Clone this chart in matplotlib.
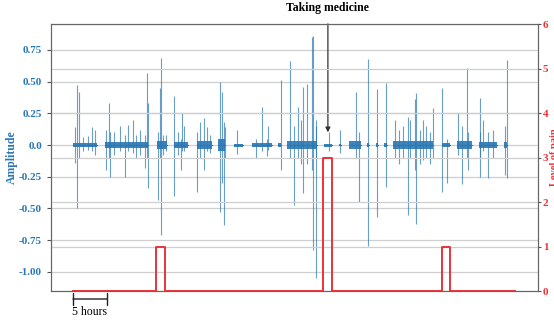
import matplotlib.pyplot as plt

# signal bursts: start/end (hours) and half-width of the dense noise band
seg_start = [0.0, 4.7, 12.4, 14.9, 18.2, 21.3, 23.7, 26.3, 30.1, 31.5, 36.9, 39.1,
             40.6, 43.2, 44.6, 45.8, 47.1, 54.3, 56.5, 59.7, 63.4]
seg_end = [3.5, 11.0, 13.8, 16.9, 20.4, 22.4, 25.0, 29.3, 30.6, 35.9, 38.1, 39.4,
           42.4, 43.6, 44.9, 46.2, 52.9, 55.4, 58.7, 62.4, 63.8]
seg_band = [0.018, 0.025, 0.03, 0.025, 0.03, 0.05, 0.012, 0.018, 0.018, 0.035, 0.012, 0.006,
            0.03, 0.018, 0.018, 0.018, 0.035, 0.018, 0.03, 0.025, 0.025]

# individual spikes: time (hours), peak and trough amplitude
spike_t = [0.29, 0.54, 0.84, 1.5, 2.2, 2.75, 3.24,
           4.8, 5.3, 5.44, 6.0, 6.9, 7.65, 8.1, 8.8, 9.3, 9.85, 10.6, 10.9, 11.07,
           12.55, 12.8, 12.94, 13.3, 13.7,
           14.9, 15.4, 15.9, 16.0, 16.3,
           18.3, 18.7, 19.2, 19.7, 20.1,
           21.6, 21.9, 22.2, 22.35,
           24.1, 26.9, 27.8, 28.5, 28.7, 30.6,
           31.9, 32.5, 33.1, 33.5, 33.9, 34.4, 35.1, 35.3, 35.7, 35.8,
           37.7, 39.3, 41.7, 42.05, 43.4, 44.75, 46.0,
           47.35, 48.0, 48.6, 49.3, 49.6, 50.3, 50.5, 51.0, 51.5, 52.0, 52.5, 52.9,
           54.3, 55.05, 56.7, 57.2, 57.9, 58.1,
           59.85, 59.95, 60.3, 61.1, 61.8, 63.5, 63.8]
spike_hi = [0.14, 0.47, 0.42, 0.06, 0.07, 0.14, 0.12,
            0.12, 0.33, 0.10, 0.10, 0.15, 0.08, 0.16, 0.20, 0.08, 0.12, 0.08, 0.57, 0.33,
            0.10, 0.45, 0.69, 0.08, 0.08,
            0.39, 0.10, 0.05, 0.25, 0.15,
            0.10, 0.18, 0.21, 0.14, 0.08,
            0.50, 0.42, 0.18, 0.14,
            0.12, 0.05, 0.30, 0.05, 0.15, 0.51,
            0.66, 0.15, 0.30, 0.20, 0.46, 0.48, 0.85, 0.86, 0.20, 0.15,
            0.10, 0.12, 0.42, 0.10, 0.68, 0.44, 0.49,
            0.20, 0.12, 0.15, 0.22, 0.20, 0.36, 0.41, 0.12, 0.20, 0.15, 0.10, 0.29,
            0.45, 0.05, 0.25, 0.15, 0.61, 0.10,
            0.37, 0.10, 0.20, 0.10, 0.12, 0.15, 0.67]
spike_lo = [-0.14, -0.50, -0.10, -0.05, -0.04, -0.05, -0.08,
            -0.20, -0.10, -0.25, -0.08, -0.05, -0.25, -0.05, -0.06, -0.10, -0.08, -0.18, -0.10, -0.34,
            -0.43, -0.10, -0.71, -0.08, -0.05,
            -0.40, -0.08, -0.20, -0.05, -0.05,
            -0.37, -0.10, -0.20, -0.05, -0.06,
            -0.53, -0.30, -0.63, -0.10,
            -0.07, -0.10, -0.05, -0.09, -0.04, -0.20,
            -0.10, -0.47, -0.10, -0.15, -0.38, -0.15, -0.20, -0.83, -1.05, -0.10,
            -0.05, -0.06, -0.10, -0.45, -0.80, -0.57, -0.33,
            -0.10, -0.15, -0.10, -0.55, -0.10, -0.20, -0.62, -0.15, -0.12, -0.10, -0.15, -0.10,
            -0.37, -0.30, -0.08, -0.31, -0.10, -0.20,
            -0.10, -0.25, -0.05, -0.26, -0.10, -0.24, -0.26]

# pain level (step)
pain_t = [0, 12.2, 13.5, 36.8, 38.1, 54.3, 55.4, 65.0]
pain_v = [0, 1, 0, 3, 0, 1, 0, 0]

amp_ticks = [0.75, 0.50, 0.25, 0.0, -0.25, -0.50, -0.75, -1.00]
amp_labels = ["0.75", "0.50", "0.25", "0.0", "-0.25", "-0.50", "-0.75", "-1.00"]
pain_ticks = [0, 1, 2, 3, 4, 5, 6]

blue = "#2a77b4"
red = "#e8343a"
plt.rcParams["font.family"] = ["Liberation Serif", "DejaVu Serif"]

fig = plt.figure(figsize=(5.54, 3.2), dpi=100)
ax = fig.add_axes([0.092, 0.0906, 0.879, 0.8344])

for s, e, b in zip(seg_start, seg_end, seg_band):
    ax.fill_between([s, e], [-b, -b], [b, b], color=blue, lw=0, alpha=0.9, zorder=3)
    ax.plot([s, e], [0, 0], color=blue, lw=0.8, zorder=3)
ax.vlines(spike_t, spike_lo, spike_hi, color=blue, lw=0.8, alpha=0.7, zorder=3)

ax.set_xlim(-3.24, 68.4)
ax.set_ylim(-1.152, 0.955)
ax.set_yticks(amp_ticks)
ax.set_yticklabels(amp_labels)
ax.set_xticks([])
ax.grid(axis="y", color="#cfcfcf", lw=0.9)
ax.set_axisbelow(True)
ax.tick_params(axis="y", colors="#555555", labelcolor=blue, labelsize=8, length=3)
for lab in ax.get_yticklabels():
    lab.set_fontweight("bold")
ax.set_ylabel("Amplitude", color=blue, fontsize=8.5, fontweight="bold", labelpad=1)
for sp in ax.spines.values():
    sp.set_color("#666666")

ax2 = ax.twinx()
ax2.step(pain_t, pain_v, where="post", color=red, lw=1.4, zorder=4)
ax2.set_ylim(0, 6)
ax2.set_yticks(pain_ticks)
ax2.grid(axis="y", color="#cfcfcf", lw=0.9)
ax2.tick_params(axis="y", colors="#555555", labelcolor=red, labelsize=8, length=2, pad=1.5)
for lab in ax2.get_yticklabels():
    lab.set_fontweight("bold")
ax2.set_ylabel("Level of pain", color=red, fontsize=7.5, fontweight="bold")
ax2.yaxis.set_label_coords(1.024, 0.5)
for sp in ax2.spines.values():
    sp.set_color("#666666")

ax.annotate("Taking medicine", xy=(37.5, 0.10), xytext=(37.5, 1.08),
            ha="center", va="center", fontsize=8.5, fontweight="bold",
            annotation_clip=False,
            arrowprops=dict(arrowstyle="-|>", color="#333333", lw=0.9,
                            mutation_scale=7, shrinkA=5, shrinkB=0))

# 5 hour scale bar below the axis
ax.annotate("", xy=(0, -1.215), xytext=(5, -1.215), annotation_clip=False,
            arrowprops=dict(arrowstyle="|-|", color="#222222", lw=1.0,
                            mutation_scale=4, shrinkA=0, shrinkB=0))
ax.text(2.5, -1.27, "5 hours", ha="center", va="top", fontsize=8.5,
        clip_on=False)

fig.savefig("out.png", dpi=100)
